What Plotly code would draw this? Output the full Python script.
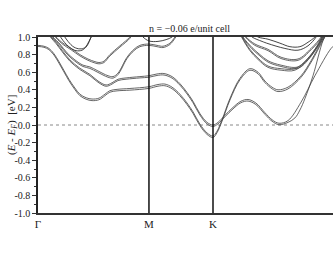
import plotly.graph_objects as go

# ---- high-symmetry path (distance along Γ-M-K-Γ, in units of 2π/a) ----
sym_k = [0.0, 0.577, 0.910]
sym_labels = ["Γ", "M", "K"]
k_max = 1.534

y_ticks = [-1.0, -0.8, -0.6, -0.4, -0.2, 0.0, 0.2, 0.4, 0.6, 0.8, 1.0]
y_ticklabels = ["-1.0", "-0.8", "-0.6", "-0.4", "-0.2", "0.0", "0.2", "0.4", "0.6", "0.8", "1.0"]

title_text = "n = \u22120.06 e/unit cell"

# ---- bands (k, E) ----
b1_k = [0, .031, .057, .083, .109, .135, .161, .192, .218, .250, .281, .317, .348, .374, .411, .478,
        .577, .624, .660, .697, .738, .775, .806, .842, .879, .910, .931, .957, .998, 1.050, 1.102,
        1.144, 1.180, 1.217, 1.248, 1.300, 1.368, 1.420, 1.482, 1.503]
b1a_e = [.905, .895, .87, .81, .72, .62, .52, .42, .35, .31, .295, .305, .35, .39, .405, .415,
         .435, .46, .465, .43, .35, .25, .15, .01, -.09, -.125, -.07, .06, .30, .53, .64,
         .60, .50, .43, .40, .43, .56, .73, .98, 1.05]
b1b_e = [.893, .883, .856, .795, .703, .603, .503, .402, .333, .293, .277, .287, .333, .373, .388, .396,
         .416, .441, .446, .412, .332, .232, .132, -.007, -.107, -.142, -.087, .043, .283, .513, .622,
         .582, .482, .412, .38, .41, .543, .713, .963, 1.04]

b2a_k = [.052, .068, .094, .125, .166, .218, .270, .312, .354, .385, .416, .458, .530, .577, .619, .655,
         .697, .738, .775, .806, .842, .879, .910, .936, .972, 1.014, 1.055, 1.092, 1.133, 1.180,
         1.217, 1.253, 1.300, 1.368, 1.440, 1.524, 1.549]
b2a_e = [1.05, 1.0, .94, .85, .74, .645, .575, .50, .455, .48, .52, .535, .55, .56, .58, .585,
         .55, .47, .37, .27, .13, .03, .0, .03, .11, .20, .27, .29, .25, .14,
         .06, .02, .05, .26, .56, .87, .92]
b2b_k = [.052, .068, .094, .125, .166, .218, .270, .312, .354, .385, .416, .458, .530, .577, .619, .655,
         .697, .738, .775, .806, .842, .879, .910, .936, .972, 1.014, 1.055, 1.092, 1.133, 1.180,
         1.217, 1.253, 1.300, 1.336, 1.362, 1.388, 1.430, 1.482, 1.503]
b2b_e = [1.04, .99, .925, .835, .725, .63, .56, .486, .44, .465, .505, .52, .535, .543, .563, .568,
         .533, .453, .353, .253, .113, .013, -.017, .013, .093, .183, .253, .272, .232, .122,
         .043, .003, .03, .08, .17, .30, .56, .96, 1.05]

b3_k = [.062, .078, .114, .151, .192, .234, .270, .307, .338, .364, .390, .416, .463, .499, .530,
        .577, .619, .650, .686, .712, .728]
b3a_e = [1.05, 1.0, .92, .82, .74, .68, .66, .62, .585, .56, .55, .59, .77, .86, .905,
         .92, .905, .895, .93, 1.0, 1.05]
b3b_e = [1.04, .99, .905, .805, .725, .665, .643, .603, .568, .543, .533, .573, .755, .845, .89,
         .905, .89, .88, .915, .985, 1.04]

b4_k = [.078, .094, .130, .172, .218, .260, .296, .317, .343, .374, .426, .478, .494]
b4a_e = [1.05, 1.0, .93, .87, .80, .75, .72, .71, .725, .80, .90, 1.0, 1.05]
b4b_e = [1.04, .99, .915, .855, .785, .735, .705, .695, .71, .785, .885, .985, 1.04]

pk1_k = [.104, .130, .166, .198, .229, .255, .276, .286]
pk1_e = [1.05, .96, .88, .845, .85, .90, 1.0, 1.05]
pk2_k = [.125, .156, .187, .218, .244, .265, .281, .291]
pk2_e = [1.05, .95, .885, .865, .88, .95, 1.02, 1.06]

b6_k = [.530, .546, .577, .624, .666, .697, .718]
b6_e = [1.05, 1.0, .955, .95, .97, 1.0, 1.05]

u1_k = [1.113, 1.144, 1.196, 1.258, 1.310, 1.362, 1.404, 1.440, 1.456]
u1_e = [1.05, 1.0, .975, .93, .89, .89, .94, 1.0, 1.05]
u2_k = [1.092, 1.113, 1.165, 1.196, 1.284, 1.352, 1.404, 1.446, 1.456]
u2_e = [1.05, 1.0, .95, .925, .87, .85, .90, 1.0, 1.05]
u3_k = [1.066, 1.082, 1.128, 1.196, 1.264, 1.352, 1.420, 1.472, 1.482]
u3a_e = [1.05, 1.0, .92, .86, .77, .75, .87, 1.0, 1.05]
u3b_e = [1.04, .99, .905, .845, .755, .735, .855, .985, 1.04]
u4_k = [1.056, 1.066, 1.113, 1.154, 1.196, 1.264, 1.352, 1.414, 1.477, 1.487]
u4a_e = [1.05, 1.0, .88, .80, .73, .68, .66, .78, 1.0, 1.05]
u4b_e = [1.04, .99, .865, .785, .715, .665, .645, .765, .985, 1.04]
u5_k = [1.050, 1.061, 1.102, 1.144, 1.196, 1.264, 1.336, 1.404, 1.482, 1.492]
u5a_e = [1.05, 1.0, .86, .76, .67, .64, .64, .76, 1.0, 1.05]
u5b_e = [1.04, .99, .845, .745, .655, .623, .623, .745, .985, 1.04]

pair_lines = [
    (b1_k, b1a_e), (b1_k, b1b_e), (b2a_k, b2a_e), (b2b_k, b2b_e),
    (b3_k, b3a_e), (b3_k, b3b_e), (b4_k, b4a_e), (b4_k, b4b_e),
    (u3_k, u3a_e), (u3_k, u3b_e), (u4_k, u4a_e), (u4_k, u4b_e),
    (u5_k, u5a_e), (u5_k, u5b_e),
]
single_lines = [(pk1_k, pk1_e), (pk2_k, pk2_e), (b6_k, b6_e), (u1_k, u1_e), (u2_k, u2_e)]

fig = go.Figure()
for kk, ee in pair_lines:
    fig.add_trace(go.Scatter(x=kk, y=ee, mode="lines",
                             line=dict(color="#404040", width=0.8, shape="spline", smoothing=1.0),
                             showlegend=False, hoverinfo="skip"))
for kk, ee in single_lines:
    fig.add_trace(go.Scatter(x=kk, y=ee, mode="lines",
                             line=dict(color="#303030", width=0.9, shape="spline", smoothing=1.0),
                             showlegend=False, hoverinfo="skip"))

# Fermi level
fig.add_shape(type="line", xref="paper", yref="y", x0=0, x1=1, y0=0, y1=0,
              line=dict(color="#888888", width=1, dash="dot"), layer="below")
# high-symmetry vertical lines
for kv in sym_k[1:]:
    fig.add_shape(type="line", xref="x", yref="paper", x0=kv, x1=kv, y0=0, y1=1,
                  line=dict(color="#111111", width=1.5))

serif = "Liberation Serif"
fig.add_annotation(text=title_text, xref="paper", yref="paper", x=0.512, y=1.0,
                   xanchor="center", yanchor="bottom", yshift=1, showarrow=False,
                   font=dict(family=serif, size=10, color="#222"))
fig.add_annotation(text="(<i>E</i> - <i>E</i><sub><i>F</i></sub>)\u00a0\u00a0[eV]",
                   xref="paper", yref="paper", x=-0.088, y=0.5, textangle=-90,
                   xanchor="center", yanchor="middle", showarrow=False,
                   font=dict(family=serif, size=11, color="#222"))

fig.update_layout(
    width=333, height=258,
    margin=dict(l=38, r=0, t=37, b=45, autoexpand=False),
    paper_bgcolor="white", plot_bgcolor="white",
    showlegend=False,
    font=dict(family=serif, size=10, color="#222"),
)
fig.update_xaxes(range=[0, k_max], tickvals=sym_k, ticktext=sym_labels, ticks="",
                 showgrid=False, zeroline=False, showline=True, mirror=True, automargin=False,
                 linecolor="#333", linewidth=2, tickfont=dict(family=serif, size=11, color="#222"))
fig.update_yaxes(range=[-1, 1], tickvals=y_ticks, ticktext=y_ticklabels, ticks="outside",
                 ticklen=4, tickwidth=1, tickcolor="#333", automargin=False,
                 minor=dict(dtick=0.1, ticklen=2, tickcolor="#333", ticks="outside"),
                 showgrid=False, zeroline=False, showline=True, linecolor="#222", linewidth=1.5,
                 tickfont=dict(family=serif, size=10, color="#222"))

fig.write_html("out.html", config={"displayModeBar": False},
               post_script="document.body.style.margin='0';document.body.style.overflow='hidden';")
